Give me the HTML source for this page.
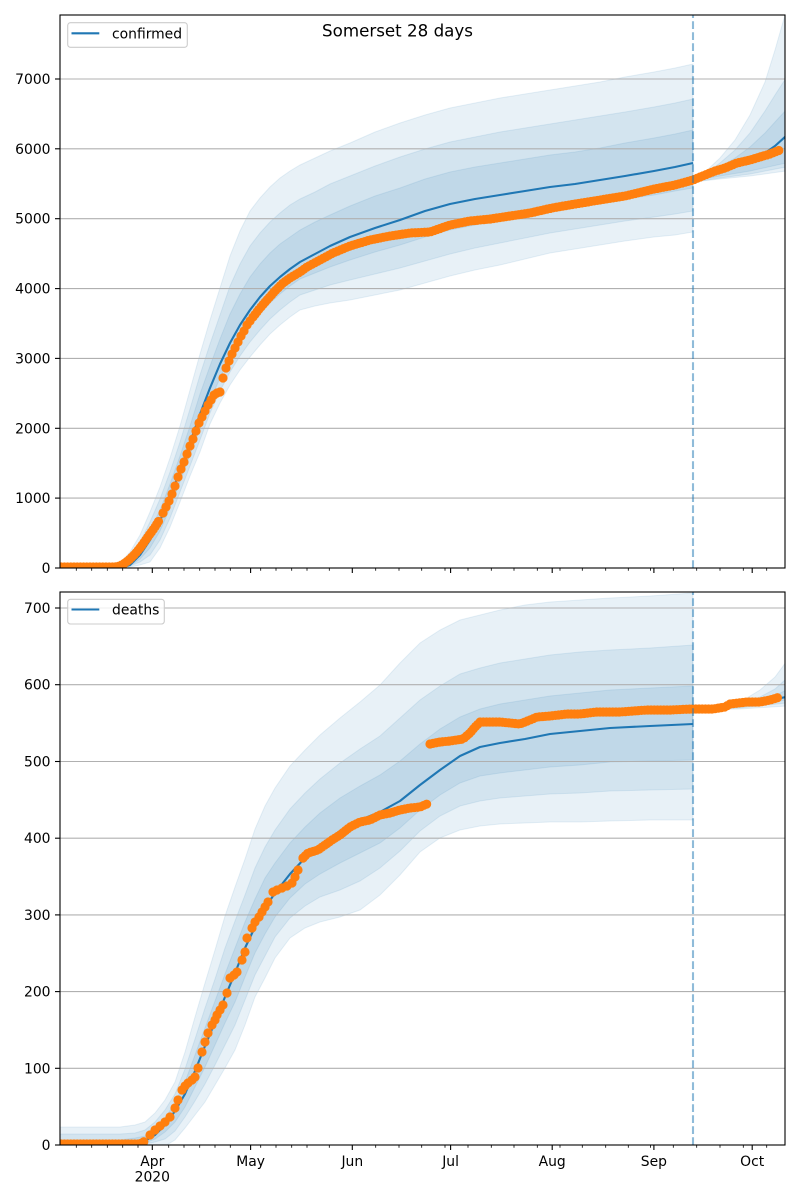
<!DOCTYPE html>
<html>
<head>
<meta charset="utf-8">
<style>
html,body{margin:0;padding:0;background:#fff;}
svg{display:block;}
text{font-family:"DejaVu Sans","Liberation Sans",sans-serif;fill:#000;}
</style>
</head>
<body>
<svg width="800" height="1200" viewBox="0 0 800 1200" xmlns="http://www.w3.org/2000/svg">
<defs>
<clipPath id="c1"><rect x="60" y="15" width="725" height="553"/></clipPath>
<clipPath id="c2"><rect x="60" y="592" width="725" height="553"/></clipPath>
</defs>
<rect width="800" height="1200" fill="#fff"/>

<!-- ================= TOP PANEL ================= -->
<g clip-path="url(#c1)">
<g fill="#1f77b4" fill-opacity="0.1" stroke="#1f77b4" stroke-opacity="0.1" stroke-width="1">
<polygon points="60,568 110,568 120,563 130,552 140,535 150,512 160,487 170,458 180,426 190,390 200,354 210,320 220,288 230,256 240,231 250,211 260,198 270,187 280,178 290,171 300,165 315,158 330,151 350,143 375,132 400,123 425,115 450,108 475,103 500,98 525,94 550,90 575,86 600,82 625,77 654,72 675,68 693,64 693,232 675,235 654,237 625,241 600,245 575,249 550,253 525,259 500,265 475,270 450,276 425,283 400,290 375,295 350,300 330,303 315,306 300,310 290,317 280,325 270,334 260,345 250,357 240,370 230,385 220,403 210,424 200,452 190,476 180,502 170,527 160,548 150,562 140,565 130,567 120,568"/>
<polygon points="60,568 110,568 120,565 130,557 140,542 150,522 160,499 170,472 180,442 190,409 200,375 210,344 220,315 230,286 240,264 250,246 260,233 270,222 280,213 290,205 300,199 315,192 330,184 350,176 375,166 400,157 425,149 450,142 475,137 500,132 525,128 550,124 575,120 600,116 625,112 654,107 675,103 693,99 693,211 675,214 654,217 625,221 600,225 575,229 550,233 525,238 500,243 475,248 450,254 425,261 400,268 375,274 350,280 330,285 315,290 300,295 290,302 280,310 270,319 260,330 250,342 240,356 230,372 220,391 210,413 200,440 190,466 180,492 170,518 160,540 150,555 140,562 130,566 120,568"/>
<polygon points="60,568 110,568 120,566 130,561 140,548 150,531 160,510 170,484 180,456 190,426 200,394 210,366 220,339 230,314 240,294 250,277 260,264 270,253 280,244 290,237 300,230 315,222 330,215 350,206 375,196 400,188 425,179 450,172 475,167 500,163 525,159 550,155 575,152 600,148 625,143 654,138 675,134 693,130 693,188 675,191 654,195 625,199 600,203 575,207 550,211 525,215 500,220 475,225 450,230 425,237 400,245 375,252 350,260 330,267 315,273 300,279 290,286 280,294 270,303 260,314 250,327 240,341 230,358 220,378 210,401 200,428 190,455 180,482 170,508 160,531 150,548 140,559 130,566 120,568"/>
<!-- forecast -->
<polygon points="693,181 705,172 720,158 735,140 750,115 765,82 775,50 785,15 786,15 786,171 750,176 720,179 693,182"/>
<polygon points="693,181 705,174 720,163 735,150 750,133 765,111 775,95 786,78 786,167 750,174 720,178 693,182"/>
<polygon points="693,181 705,175 720,167 735,158 750,147 765,133 775,122 786,110 786,163 750,171 720,176 693,181"/>
</g>
<!-- grid -->
<g stroke="#b0b0b0" stroke-width="1.1">
<line x1="60" y1="498.1" x2="785" y2="498.1"/>
<line x1="60" y1="428.3" x2="785" y2="428.3"/>
<line x1="60" y1="358.4" x2="785" y2="358.4"/>
<line x1="60" y1="288.6" x2="785" y2="288.6"/>
<line x1="60" y1="218.7" x2="785" y2="218.7"/>
<line x1="60" y1="148.8" x2="785" y2="148.8"/>
<line x1="60" y1="79" x2="785" y2="79"/>
</g>
<!-- mean -->
<g fill="none" stroke="#1f77b4" stroke-width="2.1" stroke-linejoin="round">
<polyline points="60,568 110,568 120,568 130,565 140,555 150,540 160,521 170,497 180,471 190,443 200,414 210,388 220,364 230,343 240,325 250,310 260,297 270,286 280,277 290,269 300,262 315,254 330,246 350,237 375,228 400,220 425,211 450,204 475,199 500,195 525,191 550,187 575,184 600,180 625,176 654,171 675,167 693,163"/>
<polyline points="693,181 705,177 720,172 735,167 750,161 765,153 775,146 786,136"/>
</g>
<!-- observed -->
<g fill="none" stroke="#ff7f0e" stroke-width="9.2" stroke-linecap="round" stroke-linejoin="round" stroke-dasharray="0 3.2">
<polyline points="58,567 115,567 120,566 125,563 130,559 135,554 140,548 145,541 150,534 155,527 160,519"/>
<polyline points="253,317 260,308 267,300 275,291 283,283 290,278 300,272 307,267 320,260 333,253 350,246 370,240 390,236 410,233 430,232 450,225 470,221 490,219 510,216 530,213 552,208 575,204 600,200 625,196 654,189 675,185 693,180 705,175 715,171 725,168 737,163 750,160 760,157 770,154 780,150"/>
</g>
<g fill="#ff7f0e">
<circle cx="163" cy="513" r="4.6"/><circle cx="166" cy="507" r="4.6"/><circle cx="169" cy="501" r="4.6"/><circle cx="172" cy="494" r="4.6"/><circle cx="175" cy="486" r="4.6"/><circle cx="178" cy="477" r="4.6"/><circle cx="181" cy="469" r="4.6"/><circle cx="184" cy="462" r="4.6"/><circle cx="187" cy="454" r="4.6"/><circle cx="190" cy="446" r="4.6"/><circle cx="193" cy="439" r="4.6"/><circle cx="196" cy="431" r="4.6"/><circle cx="199" cy="423" r="4.6"/><circle cx="202" cy="417" r="4.6"/><circle cx="205" cy="411" r="4.6"/><circle cx="208" cy="405" r="4.6"/><circle cx="211" cy="400" r="4.6"/><circle cx="214" cy="395" r="4.6"/><circle cx="217" cy="393" r="4.6"/><circle cx="220" cy="392" r="4.6"/><circle cx="223" cy="378" r="4.6"/><circle cx="226" cy="368" r="4.6"/><circle cx="229" cy="361" r="4.6"/><circle cx="232" cy="354" r="4.6"/><circle cx="235" cy="348" r="4.6"/><circle cx="238" cy="342" r="4.6"/><circle cx="241" cy="336" r="4.6"/><circle cx="244" cy="331" r="4.6"/><circle cx="247" cy="325" r="4.6"/><circle cx="250" cy="321" r="4.6"/>
</g>
<line x1="693" y1="568" x2="693" y2="15" stroke="#1f77b4" stroke-opacity="0.5" stroke-width="2.1" stroke-dasharray="7.7 3.3"/>
</g>

<!-- top spines -->
<rect x="60" y="15" width="725" height="553" fill="none" stroke="#000" stroke-width="1.1"/>
<!-- top y ticks -->
<g stroke="#000" stroke-width="1.1">
<line x1="55" y1="568" x2="60" y2="568"/>
<line x1="55" y1="498.1" x2="60" y2="498.1"/>
<line x1="55" y1="428.3" x2="60" y2="428.3"/>
<line x1="55" y1="358.4" x2="60" y2="358.4"/>
<line x1="55" y1="288.6" x2="60" y2="288.6"/>
<line x1="55" y1="218.7" x2="60" y2="218.7"/>
<line x1="55" y1="148.8" x2="60" y2="148.8"/>
<line x1="55" y1="79" x2="60" y2="79"/>
</g>
<g font-size="13.9" text-anchor="end">
<text x="50.5" y="573">0</text>
<text x="50.5" y="503.1">1000</text>
<text x="50.5" y="433.3">2000</text>
<text x="50.5" y="363.4">3000</text>
<text x="50.5" y="293.6">4000</text>
<text x="50.5" y="223.7">5000</text>
<text x="50.5" y="153.8">6000</text>
<text x="50.5" y="84">7000</text>
</g>
<!-- top x ticks -->
<g stroke="#000" stroke-width="1.1">
<line x1="152.3" y1="568" x2="152.3" y2="573"/>
<line x1="250.6" y1="568" x2="250.6" y2="573"/>
<line x1="352.3" y1="568" x2="352.3" y2="573"/>
<line x1="450.6" y1="568" x2="450.6" y2="573"/>
<line x1="552.2" y1="568" x2="552.2" y2="573"/>
<line x1="653.9" y1="568" x2="653.9" y2="573"/>
<line x1="752.2" y1="568" x2="752.2" y2="573"/>
</g>
<g stroke="#000" stroke-width="0.8">
<path d="M76.3 568v2.8M91.7 568v2.8M107.3 568v2.8M122.7 568v2.8M138 568v2.8M168.7 568v2.8M184 568v2.8M199.7 568v2.8M215 568v2.8M230.3 568v2.8M260.7 568v2.8M276 568v2.8M291.7 568v2.8M307 568v2.8M329.3 568v2.8M375.7 568v2.8M399 568v2.8M421.7 568v2.8M445 568v2.8M468 568v2.8M491.3 568v2.8M514 568v2.8M537.3 568v2.8M560 568v2.8M582.3 568v2.8M605.7 568v2.8M628.3 568v2.8M650.6 568v2.8M673.3 568v2.8M696.7 568v2.8M720 568v2.8M743.3 568v2.8M766.7 568v2.8"/>
</g>
<!-- top legend -->
<rect x="67.7" y="22.7" width="119.6" height="24.6" rx="2.8" ry="2.8" fill="#fff" fill-opacity="0.8" stroke="#cccccc" stroke-width="1.1"/>
<line x1="71.5" y1="33.3" x2="99.3" y2="33.3" stroke="#1f77b4" stroke-width="2.1"/>
<text x="112" y="38.3" font-size="13.9">confirmed</text>

<!-- ================= BOTTOM PANEL ================= -->
<g clip-path="url(#c2)">
<g fill="#1f77b4" fill-opacity="0.1" stroke="#1f77b4" stroke-opacity="0.1" stroke-width="1">
<polygon points="60,1127 120,1127 135,1125 145,1122 155,1113 165,1100 175,1082 185,1052 195,1017 205,983 215,950 225,916 235,887 245,859 255,829 265,806 275,788 290,766 305,750 320,735 340,718 360,702 380,685 400,663 420,643 440,630 460,620 480,615 500,610 525,605 550,602 580,600 610,598 650,596 693,593 693,820 650,820 610,821 580,822 550,822 525,823 500,824 480,826 460,830 440,838 420,852 400,875 380,895 360,910 340,917 320,922 305,928 290,938 275,958 265,978 255,997 245,1025 235,1050 225,1068 215,1085 205,1102 195,1115 185,1128 175,1140 165,1146 60,1146"/>
<polygon points="60,1134 120,1134 135,1133 145,1130 155,1122 165,1110 175,1094 185,1069 195,1039 205,1008 215,979 225,948 235,921 245,895 255,868 265,847 275,830 290,809 305,793 320,779 340,763 360,749 380,736 400,718 420,700 440,686 460,674 480,668 500,663 525,659 550,655 580,652 610,650 650,648 693,645 693,789 650,790 610,791 580,793 550,794 525,796 500,798 480,801 460,806 440,816 420,831 400,851 380,868 360,881 340,890 320,897 305,906 290,918 275,937 265,956 255,975 245,1000 235,1025 225,1045 215,1065 205,1084 195,1101 185,1117 175,1131 165,1139 155,1142 145,1144 135,1146 60,1146"/>
<polygon points="60,1140 120,1140 135,1138 145,1136 155,1129 165,1118 175,1103 185,1082 195,1055 205,1028 215,1001 225,974 235,948 245,922 255,899 265,878 275,863 290,843 305,827 320,813 340,798 360,786 380,775 400,761 420,744 440,729 460,717 480,709 500,704 525,700 550,696 580,693 610,690 650,688 693,686 693,760 650,761 610,762 580,765 550,767 525,770 500,773 480,776 460,783 440,795 420,810 400,828 380,843 360,853 340,863 320,874 305,884 290,898 275,917 265,934 255,953 245,977 235,1002 225,1023 215,1045 205,1067 195,1087 185,1107 175,1122 165,1132 155,1139 145,1143 135,1144 60,1146"/>
<!-- forecast -->
<polygon points="693,709 720,707 740,702 760,690 775,677 786,662 786,706 740,709 693,710"/>
<polygon points="693,709 740,704 760,697 775,689 786,679 786,703 740,708 693,710"/>
<polygon points="693,709 740,706 760,701 775,696 786,690 786,700 740,707 693,710"/>
</g>
<g stroke="#b0b0b0" stroke-width="1.1">
<line x1="60" y1="1068.3" x2="785" y2="1068.3"/>
<line x1="60" y1="991.6" x2="785" y2="991.6"/>
<line x1="60" y1="914.9" x2="785" y2="914.9"/>
<line x1="60" y1="838.2" x2="785" y2="838.2"/>
<line x1="60" y1="761.5" x2="785" y2="761.5"/>
<line x1="60" y1="684.7" x2="785" y2="684.7"/>
<line x1="60" y1="608" x2="785" y2="608"/>
</g>
<g fill="none" stroke="#1f77b4" stroke-width="2.1" stroke-linejoin="round">
<polyline points="60,1145 120,1145 135,1144 145,1141 155,1135 165,1125 175,1111 185,1094 195,1071 205,1046 215,1022 225,997 235,973 245,948 255,927 265,908 275,893 290,874 305,858 320,845 340,831 360,820 380,812 400,801 420,785 440,770 460,756 480,747 500,743 525,739 550,734 580,731 610,728 650,726 693,724"/>
<polyline points="693,710 740,706 786,697"/>
</g>
<g fill="none" stroke="#ff7f0e" stroke-width="9.2" stroke-linecap="round" stroke-linejoin="round" stroke-dasharray="0 3.2">
<polyline points="58,1144 140,1144 145,1141"/>
<polyline points="303,858 308,853 318,850 325,845 332,840 340,835 350,827 360,822 370,820 380,815 390,813 400,810 410,808 420,807 427,804"/>
<polyline points="430,744 440,742 450,741 463,739 470,733 475,727 480,722 490,722 500,722 510,723 520,724 530,720 537,717 550,716 567,714 580,714 597,712 620,712 647,710 670,710 692,709 713,709 725,707 730,704 747,702 760,702 770,700 780,697"/>
</g>
<g fill="#ff7f0e">
<circle cx="150" cy="1135" r="4.6"/><circle cx="155" cy="1130" r="4.6"/><circle cx="160" cy="1126" r="4.6"/><circle cx="165" cy="1122" r="4.6"/><circle cx="170" cy="1117" r="4.6"/><circle cx="175" cy="1108" r="4.6"/><circle cx="178" cy="1100" r="4.6"/><circle cx="182" cy="1090" r="4.6"/><circle cx="185" cy="1086" r="4.6"/><circle cx="188" cy="1083" r="4.6"/><circle cx="192" cy="1080" r="4.6"/><circle cx="195" cy="1077" r="4.6"/><circle cx="198" cy="1068" r="4.6"/><circle cx="202" cy="1052" r="4.6"/><circle cx="205" cy="1042" r="4.6"/><circle cx="208" cy="1033" r="4.6"/><circle cx="212" cy="1025" r="4.6"/><circle cx="215" cy="1020" r="4.6"/><circle cx="217" cy="1015" r="4.6"/><circle cx="220" cy="1010" r="4.6"/><circle cx="223" cy="1005" r="4.6"/><circle cx="227" cy="993" r="4.6"/><circle cx="230" cy="978" r="4.6"/><circle cx="234" cy="975" r="4.6"/><circle cx="237" cy="972" r="4.6"/><circle cx="242" cy="960" r="4.6"/><circle cx="245" cy="952" r="4.6"/><circle cx="247" cy="938" r="4.6"/><circle cx="252" cy="928" r="4.6"/><circle cx="255" cy="922" r="4.6"/><circle cx="259" cy="917" r="4.6"/><circle cx="262" cy="912" r="4.6"/><circle cx="265" cy="907" r="4.6"/><circle cx="268" cy="902" r="4.6"/><circle cx="273" cy="892" r="4.6"/><circle cx="277" cy="890" r="4.6"/><circle cx="282" cy="888" r="4.6"/><circle cx="287" cy="886" r="4.6"/><circle cx="292" cy="883" r="4.6"/><circle cx="295" cy="877" r="4.6"/><circle cx="298" cy="870" r="4.6"/><circle cx="303" cy="858" r="4.6"/>
</g>
<line x1="693" y1="1145" x2="693" y2="592" stroke="#1f77b4" stroke-opacity="0.5" stroke-width="2.1" stroke-dasharray="7.7 3.3"/>
</g>

<rect x="60" y="592" width="725" height="553" fill="none" stroke="#000" stroke-width="1.1"/>
<g stroke="#000" stroke-width="1.1">
<line x1="55" y1="1145" x2="60" y2="1145"/>
<line x1="55" y1="1068.3" x2="60" y2="1068.3"/>
<line x1="55" y1="991.6" x2="60" y2="991.6"/>
<line x1="55" y1="914.9" x2="60" y2="914.9"/>
<line x1="55" y1="838.2" x2="60" y2="838.2"/>
<line x1="55" y1="761.5" x2="60" y2="761.5"/>
<line x1="55" y1="684.7" x2="60" y2="684.7"/>
<line x1="55" y1="608" x2="60" y2="608"/>
</g>
<g font-size="13.9" text-anchor="end">
<text x="50.5" y="1150">0</text>
<text x="50.5" y="1073.3">100</text>
<text x="50.5" y="996.6">200</text>
<text x="50.5" y="919.9">300</text>
<text x="50.5" y="843.2">400</text>
<text x="50.5" y="766.5">500</text>
<text x="50.5" y="689.7">600</text>
<text x="50.5" y="613">700</text>
</g>
<g stroke="#000" stroke-width="1.1">
<line x1="152.3" y1="1145" x2="152.3" y2="1150"/>
<line x1="250.6" y1="1145" x2="250.6" y2="1150"/>
<line x1="352.3" y1="1145" x2="352.3" y2="1150"/>
<line x1="450.6" y1="1145" x2="450.6" y2="1150"/>
<line x1="552.2" y1="1145" x2="552.2" y2="1150"/>
<line x1="653.9" y1="1145" x2="653.9" y2="1150"/>
<line x1="752.2" y1="1145" x2="752.2" y2="1150"/>
</g>
<g stroke="#000" stroke-width="0.8">
<path d="M76.3 1145v2.8M91.7 1145v2.8M107.3 1145v2.8M122.7 1145v2.8M138 1145v2.8M168.7 1145v2.8M184 1145v2.8M199.7 1145v2.8M215 1145v2.8M230.3 1145v2.8M260.7 1145v2.8M276 1145v2.8M291.7 1145v2.8M307 1145v2.8M329.3 1145v2.8M375.7 1145v2.8M399 1145v2.8M421.7 1145v2.8M445 1145v2.8M468 1145v2.8M491.3 1145v2.8M514 1145v2.8M537.3 1145v2.8M560 1145v2.8M582.3 1145v2.8M605.7 1145v2.8M628.3 1145v2.8M650.6 1145v2.8M673.3 1145v2.8M696.7 1145v2.8M720 1145v2.8M743.3 1145v2.8M766.7 1145v2.8"/>
</g>
<g font-size="13.9" text-anchor="middle">
<text x="152.3" y="1166">Apr</text>
<text x="152.3" y="1181.5">2020</text>
<text x="250.6" y="1166">May</text>
<text x="352.3" y="1166">Jun</text>
<text x="450.6" y="1166">Jul</text>
<text x="552.2" y="1166">Aug</text>
<text x="653.9" y="1166">Sep</text>
<text x="752.2" y="1166">Oct</text>
</g>
<!-- bottom legend -->
<rect x="67.7" y="599.3" width="96.6" height="24.7" rx="2.8" ry="2.8" fill="#fff" fill-opacity="0.8" stroke="#cccccc" stroke-width="1.1"/>
<line x1="71.5" y1="609.5" x2="99.3" y2="609.5" stroke="#1f77b4" stroke-width="2.1"/>
<text x="112" y="614.5" font-size="13.9">deaths</text>

<!-- title -->
<text x="397.5" y="36.5" font-size="16.7" text-anchor="middle">Somerset 28 days</text>
</svg>
</body>
</html>
